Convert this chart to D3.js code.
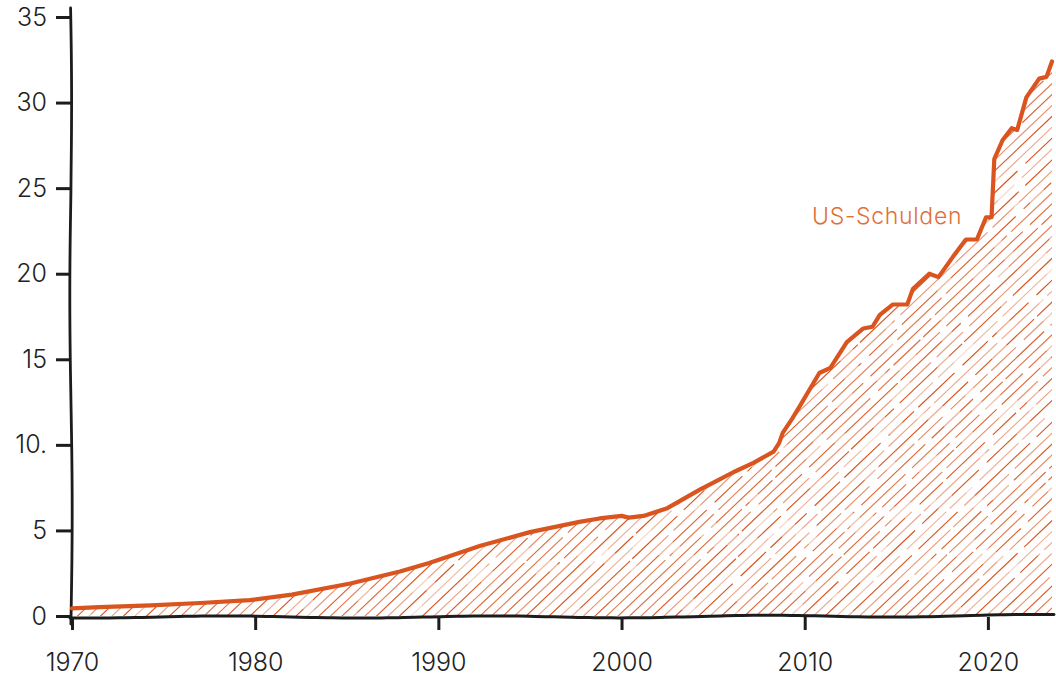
<!DOCTYPE html>
<html>
<head>
<meta charset="utf-8">
<script src="https://cdn.jsdelivr.net/npm/d3@7"></script>
<style>
  html, body { margin: 0; padding: 0; background: #fff; }
  svg { display: block; }
  text { font-family: "Inter", "Noto Sans", sans-serif; }
</style>
</head>
<body>
<svg id="chart" width="1056" height="677"></svg>
<script>
// ---- data (US federal debt, trillion USD) ----
const years = [1970, 1971.5, 1974.3, 1977, 1979.7, 1982, 1985.2, 1987.9, 1989.5, 1992.3, 1995, 1997.7, 1998.8, 2000, 2000.4, 2001.2, 2002.5, 2004.3, 2005.2, 2006.1, 2007.2, 2008.3, 2008.6, 2008.8, 2009.3, 2009.7, 2010.8, 2011.4, 2012.3, 2013.2, 2013.7, 2014.1, 2014.8, 2015.6, 2015.9, 2016.8, 2017.3, 2018.1, 2018.8, 2019.4, 2019.9, 2020.2, 2020.35, 2020.8, 2021.3, 2021.6, 2022.1, 2022.8, 2023.2, 2023.5];
const debt  = [0.45, 0.52, 0.62, 0.76, 0.93, 1.25, 1.9, 2.6, 3.1, 4.1, 4.9, 5.5, 5.7, 5.85, 5.75, 5.85, 6.3, 7.4, 7.9, 8.4, 8.95, 9.6, 10.1, 10.7, 11.5, 12.2, 14.2, 14.5, 16.0, 16.8, 16.9, 17.6, 18.2, 18.2, 19.1, 20.0, 19.8, 21.0, 22.0, 22.0, 23.3, 23.3, 26.7, 27.8, 28.5, 28.4, 30.3, 31.4, 31.5, 32.4];
const xTicks = [1970, 1980, 1990, 2000, 2010, 2020];
const yTicks = [0, 5, 10, 15, 20, 25, 30, 35];
const yTickLabels = ["0", "5", "10.", "15", "20", "25", "30", "35"];
const seriesLabel = "US-Schulden";

// ---- layout ----
const svg = d3.select("#chart");
const x = d3.scaleLinear().domain([1970, 2023.5]).range([72, 1052]);
const y = d3.scaleLinear().domain([0, 35]).range([616, 17]);
const lineColor = "#d9541e";
const inkColor = "#1c1c1c";
const fontFam = "Inter, 'Noto Sans', sans-serif";

const data = years.map((yr, i) => ({ yr, v: debt[i] }));

// clip for hatch
const defs = svg.append("defs");
const area = d3.area().x(d => x(d.yr)).y0(y(0)).y1(d => y(d.v));
defs.append("clipPath").attr("id", "areaClip")
  .append("path").attr("d", area(data));

// hatch lines, hand-drawn look
const hatch = svg.append("g").attr("clip-path", "url(#areaClip)");
const spacing = 11.5;
const slope = 0.95; // dy/dx
const H = y(0) - y(35);
let k = 0;
for (let x0 = x(1970) - H / slope - 10; x0 < 1060; x0 += spacing, k++) {
  const op = 0.4 + 0.6 * Math.abs(Math.sin(k * 1.7));
  hatch.append("line")
    .attr("x1", x0).attr("y1", y(0) + 2)
    .attr("x2", x0 + (y(0) + 2) / slope).attr("y2", 0)
    .attr("stroke", lineColor)
    .attr("stroke-opacity", op)
    .attr("stroke-width", 1.15)
    .attr("stroke-dasharray", `${50 + (k * 37) % 110} ${3 + (k * 13) % 9} ${25 + (k * 23) % 70} ${4 + (k * 7) % 8}`);
  // faint overlay strokes to mimic uneven pressure
  hatch.append("line")
    .attr("x1", x0).attr("y1", y(0) + 2)
    .attr("x2", x0 + (y(0) + 2) / slope).attr("y2", 0)
    .attr("stroke", "#fff")
    .attr("stroke-opacity", 0.55)
    .attr("stroke-width", 1.4)
    .attr("stroke-dasharray", `${8 + (k * 11) % 20} ${60 + (k * 29) % 120}`)
    .attr("stroke-dashoffset", (k * 17) % 80);
}

// axes (hand-drawn wobble)
const wob = (t, a, f, p) => a * Math.sin(t * f + p);
const yAxisPts = d3.range(0, 41).map(i => {
  const t = i / 40;
  const yy = 8 + t * (624 - 8);
  return [71 + wob(t, 1.2, 9, 0.5) + (t < 0.3 ? -1 + t * 3 : 0), yy];
});
svg.append("path").attr("d", d3.line().curve(d3.curveBasis)(yAxisPts))
  .attr("fill", "none").attr("stroke", inkColor).attr("stroke-width", 2.8).attr("stroke-linecap", "round");

const xAxisPts = d3.range(0, 61).map(i => {
  const t = i / 60;
  const xx = 70 + t * (1054 - 70);
  return [xx, 617 + wob(t, 1.1, 23, 1.1) + (t > 0.5 ? -1.5 * (t - 0.5) * 2 : 0)];
});
svg.append("path").attr("d", d3.line().curve(d3.curveBasis)(xAxisPts))
  .attr("fill", "none").attr("stroke", inkColor).attr("stroke-width", 3).attr("stroke-linecap", "round");

// y ticks
const gy = svg.append("g").attr("transform", "translate(71,0)")
  .call(d3.axisLeft(y).tickValues(yTicks).tickSize(15).tickPadding(9)
    .tickFormat((d, i) => yTickLabels[i]));
gy.select(".domain").remove();
gy.selectAll(".tick line").attr("stroke", inkColor).attr("stroke-width", 3);
gy.selectAll(".tick text").attr("fill", "#222").attr("font-size", 25).attr("font-weight", 300)
  .attr("font-family", fontFam);

// x ticks
const gx = svg.append("g").attr("transform", "translate(0,617)")
  .call(d3.axisBottom(x).tickValues(xTicks).tickSize(13).tickPadding(23).tickFormat(d3.format("d")));
gx.select(".domain").remove();
gx.selectAll(".tick line").attr("stroke", inkColor).attr("stroke-width", 3);
gx.selectAll(".tick text").attr("fill", "#222").attr("font-size", 25).attr("font-weight", 300)
  .attr("font-family", fontFam);

// line
svg.append("path").datum(data)
  .attr("d", d3.line().x(d => x(d.yr)).y(d => y(d.v)))
  .attr("fill", "none").attr("stroke", lineColor).attr("stroke-width", 4.2)
  .attr("stroke-linejoin", "round").attr("stroke-linecap", "round");

// series label
svg.append("text").attr("x", x(2010.4)).attr("y", y(22.9))
  .attr("text-anchor", "start")
  .attr("fill", "#e0703a").attr("font-size", 23).attr("font-weight", 300)
  .attr("letter-spacing", 0.7)
  .attr("font-family", fontFam)
  .text(seriesLabel);
</script>
</body>
</html>
